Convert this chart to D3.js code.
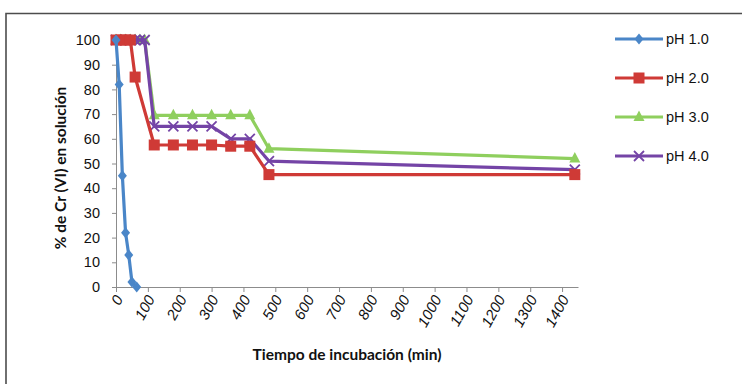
<!DOCTYPE html>
<html>
<head>
<meta charset="utf-8">
<script src="https://cdn.jsdelivr.net/npm/d3@7"></script>
<style>
  html, body { margin: 0; padding: 0; background: #fff; }
  svg { display: block; }
</style>
</head>
<body>
<svg id="chart" width="742" height="384"></svg>
<script>
// Cr(VI) remaining in solution over incubation time, one series per pH
const timesPH1 = [0, 10, 20, 30, 40, 50, 65];
const valuesPH1 = [100, 82, 45, 22, 13, 2, 0];

const timesPH2 = [0, 15, 30, 45, 60, 120, 180, 240, 300, 360, 420, 480, 1440];
const valuesPH2 = [100, 100, 100, 100, 85, 57.5, 57.5, 57.5, 57.5, 57, 57, 45.5, 45.5];

const timesPH3 = [0, 15, 30, 45, 60, 75, 90, 120, 180, 240, 300, 360, 420, 480, 1440];
const valuesPH3 = [100, 100, 100, 100, 100, 100, 100, 69.5, 69.5, 69.5, 69.5, 69.5, 69.5, 56, 52];

const timesPH4 = [0, 15, 30, 45, 60, 75, 90, 120, 180, 240, 300, 360, 420, 480, 1440];
const valuesPH4 = [100, 100, 100, 100, 100, 100, 100, 65, 65, 65, 65, 60, 60, 51, 47.5];

const seriesNames = ["pH 1.0", "pH 2.0", "pH 3.0", "pH 4.0"];
const xTicks = d3.range(0, 1401, 100);
const yTicks = d3.range(0, 101, 10);

const seriesList = [
  { name: seriesNames[0], t: timesPH1, v: valuesPH1, color: "#4a86c8", marker: "diamond" },
  { name: seriesNames[1], t: timesPH2, v: valuesPH2, color: "#cf3a36", marker: "square" },
  { name: seriesNames[2], t: timesPH3, v: valuesPH3, color: "#8fcf5e", marker: "triangle" },
  { name: seriesNames[3], t: timesPH4, v: valuesPH4, color: "#7444a6", marker: "cross" }
];

const svg = d3.select("#chart");
const font = "'Liberation Sans', Arial, sans-serif";
const titleFont = "Lato, 'Open Sans', sans-serif";

// outer frame
svg.append("path")
  .attr("d", "M6,384 L6,13.5 L742,13.5")
  .attr("fill", "none").attr("stroke", "#4d4d4d").attr("stroke-width", 1.6);

const x = d3.scaleLinear().domain([0, 1450]).range([116, 578]);
const y = d3.scaleLinear().domain([0, 100]).range([287, 40]);

// y axis
const yAxis = svg.append("g").attr("transform", "translate(116,0)")
  .call(d3.axisLeft(y).tickValues(yTicks).tickSize(4).tickSizeOuter(0).tickPadding(12));
yAxis.select(".domain").attr("stroke", "#8c8c8c");
yAxis.selectAll(".tick line").attr("stroke", "#8c8c8c");
yAxis.selectAll("text").attr("font-family", font).attr("font-size", 14.5).attr("fill", "#111");

// x axis
const xAxis = svg.append("g").attr("transform", "translate(0,287)")
  .call(d3.axisBottom(x).tickValues(xTicks).tickFormat(d3.format("d")).tickSize(5).tickSizeOuter(0));
xAxis.select(".domain").attr("stroke", "#8c8c8c");
xAxis.selectAll(".tick line").attr("stroke", "#8c8c8c");
xAxis.selectAll("text")
  .attr("font-family", font).attr("font-size", 15)
  .attr("font-style", "italic").attr("fill", "#111")
  .attr("text-anchor", "end").attr("dy", null).attr("y", 0)
  .attr("transform", "translate(7,12) rotate(-61)");

// axis titles
svg.append("text")
  .attr("x", 347).attr("y", 360).attr("text-anchor", "middle")
  .attr("font-family", titleFont).attr("font-weight", "bold")
  .attr("font-size", 15.5).attr("fill", "#111")
  .text("Tiempo de incubación (min)");

svg.append("text")
  .attr("transform", "translate(66,168) rotate(-90)").attr("text-anchor", "middle")
  .attr("font-family", titleFont).attr("font-weight", "bold")
  .attr("font-size", 15.5).attr("fill", "#111")
  .text("% de Cr (VI) en solución");

// marker drawing
function drawMarker(g, type, color) {
  if (type === "diamond") {
    g.append("path").attr("d", "M0,-5.5 L4.5,0 L0,5.5 L-4.5,0 Z").attr("fill", color);
  } else if (type === "square") {
    g.append("rect").attr("x", -5.5).attr("y", -5.5).attr("width", 11).attr("height", 11).attr("fill", color);
  } else if (type === "triangle") {
    g.append("path").attr("d", "M0,-6.5 L5.5,4 L-5.5,4 Z").attr("fill", color);
  } else {
    g.append("path").attr("d", "M-5,-5 L5,5 M-5,5 L5,-5")
      .attr("stroke", color).attr("stroke-width", 1.8).attr("fill", "none");
  }
}

const line = d3.line().x(d => x(d[0])).y(d => y(d[1]));

// draw green, purple, red, blue so blue sits on top
const drawOrder = [2, 3, 1, 0];
drawOrder.forEach(i => {
  const s = seriesList[i];
  const pts = s.t.map((t, k) => [t, s.v[k]]);
  const g = svg.append("g");
  g.append("path").datum(pts).attr("d", line)
    .attr("fill", "none").attr("stroke", s.color).attr("stroke-width", 3.2)
    .attr("stroke-linejoin", "round");
  pts.forEach(p => {
    const m = g.append("g").attr("transform", `translate(${x(p[0])},${y(p[1])})`);
    drawMarker(m, s.marker, s.color);
  });
});

// legend
const legendY = [39, 78, 117, 156];
seriesList.forEach((s, i) => {
  const g = svg.append("g").attr("transform", `translate(0,${legendY[i]})`);
  g.append("line").attr("x1", 615).attr("x2", 663).attr("y1", 0).attr("y2", 0)
    .attr("stroke", s.color).attr("stroke-width", 3.2);
  const m = g.append("g").attr("transform", "translate(639,0)");
  drawMarker(m, s.marker, s.color);
  g.append("text").attr("x", 666).attr("y", 0).attr("dy", "0.35em")
    .attr("font-family", font).attr("font-size", 14.5).attr("fill", "#111")
    .text(s.name);
});
</script>
</body>
</html>
